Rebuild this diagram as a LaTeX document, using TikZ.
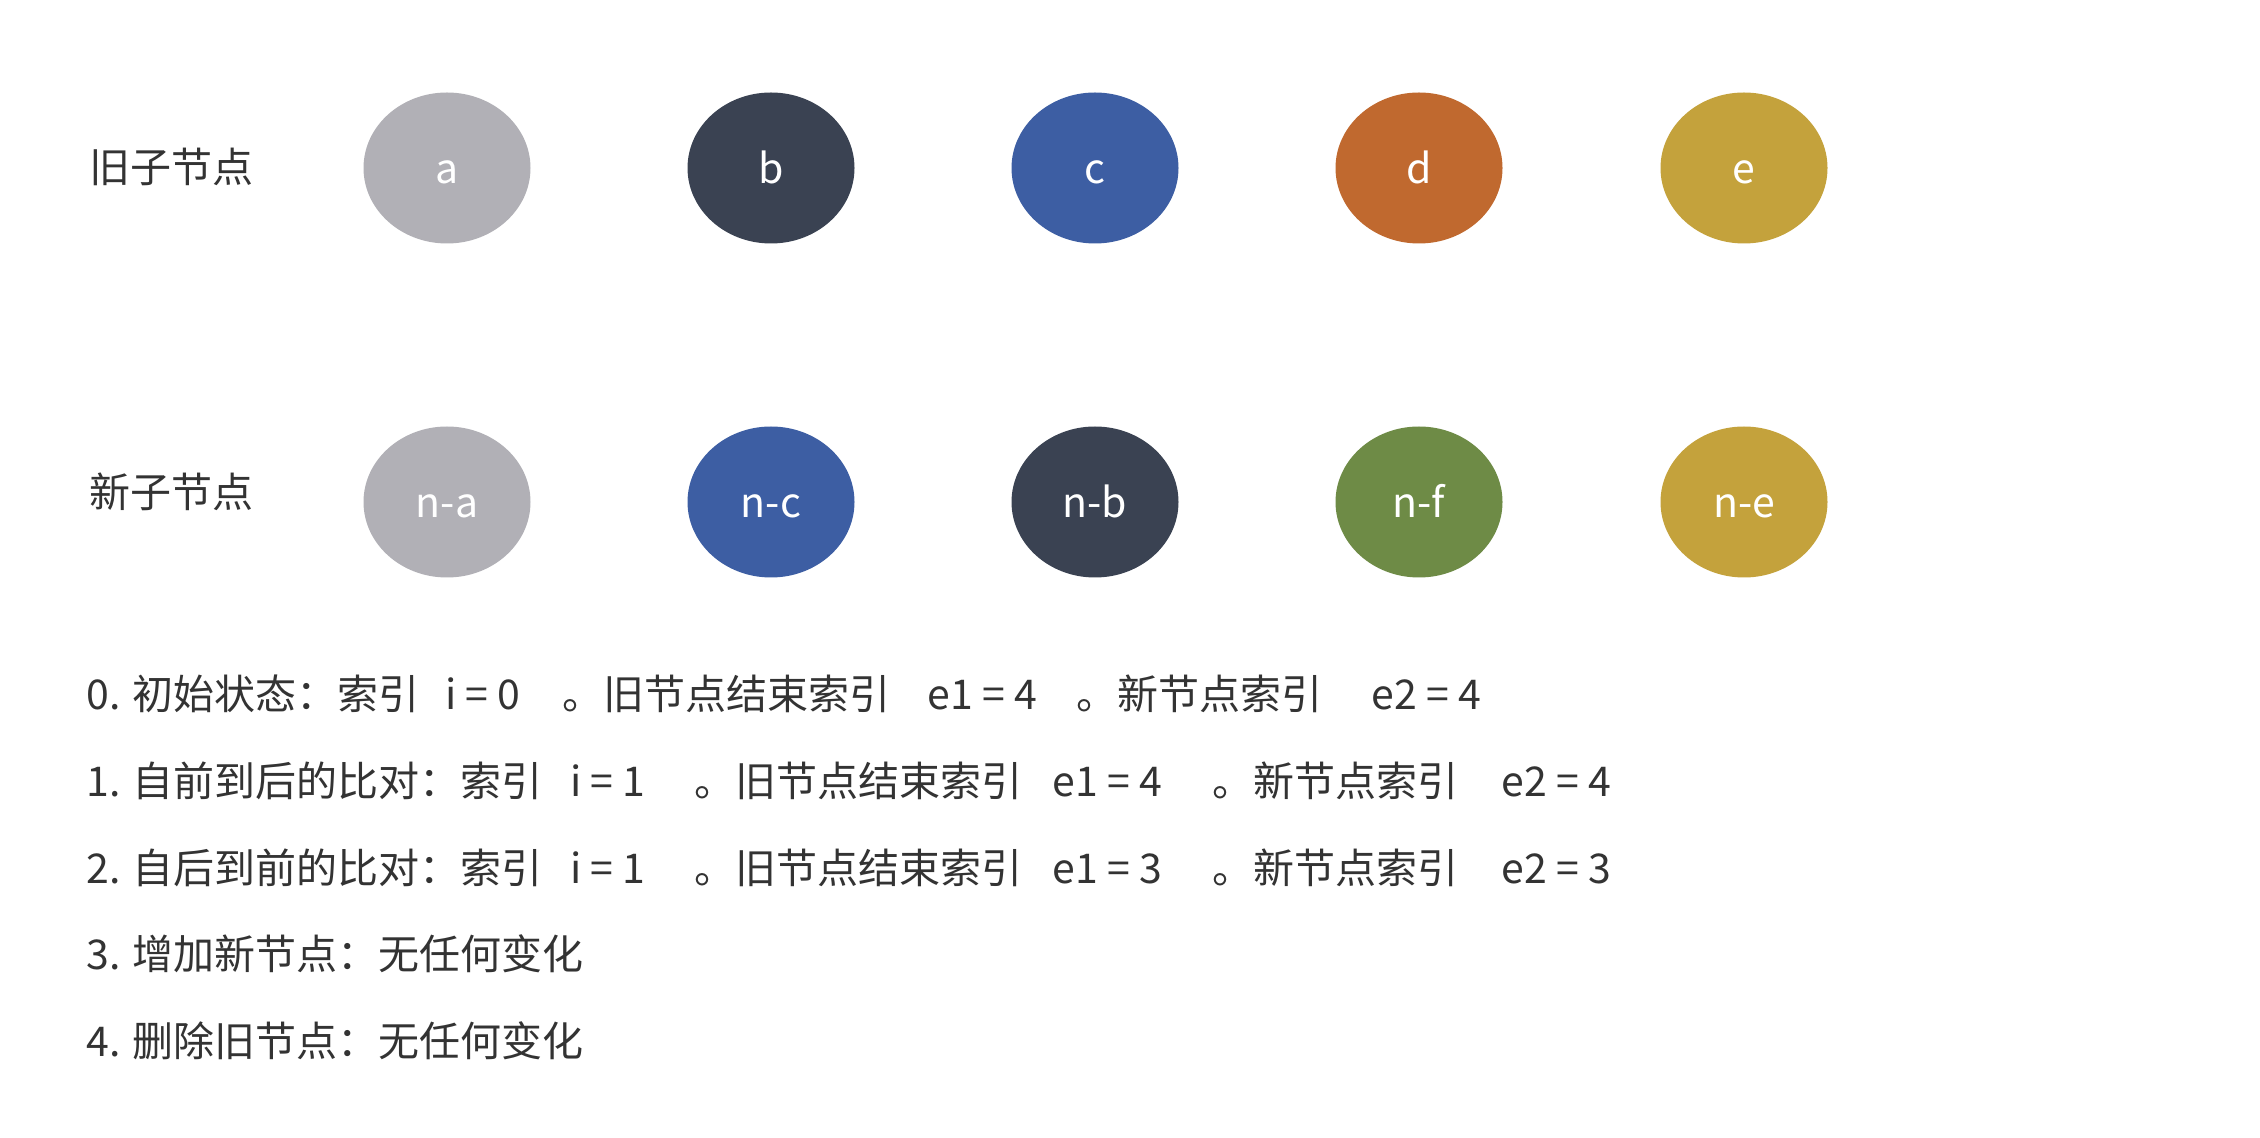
\documentclass[tikz,border=0pt]{standalone}
\usepackage{fontspec}
\setmainfont{Noto Sans CJK SC}
\usepackage{xcolor}
\usepackage{tikz}
\usetikzlibrary{shapes.geometric}
\definecolor{Ink}{HTML}{333333}
\definecolor{Ash}{HTML}{B1B0B6}
\definecolor{Slate}{HTML}{3A4252}
\definecolor{Cobalt}{HTML}{3D5EA3}
\definecolor{Rust}{HTML}{C0692F}
\definecolor{Ochre}{HTML}{C4A23C}
\definecolor{Moss}{HTML}{6E8B46}

\begin{document}
\begin{tikzpicture}[x=0.5pt,y=-0.5pt,font=\fontsize{20.5pt}{24pt}\selectfont,
  vnode/.style={ellipse,fill=#1,minimum width=83.5pt,minimum height=75.5pt,inner sep=0pt,
    text=white,text height=1em,text depth=0pt},
  txt/.style={anchor=base west,inner sep=0pt,text=Ink}]
\useasboundingbox[fill=white] (0,0) rectangle (2260,1138);
\node[txt] (oldlbl) at (89,183) {旧子节点};
\node[txt] (newlbl) at (89,508) {新子节点};
\foreach \i/\x/\c/\t in {1/447/Ash/a,2/771/Slate/b,3/1095/Cobalt/c,4/1419/Rust/d,5/1744/Ochre/e}
  \node[vnode=\c] (o\i) at (\x,168) {\raisebox{-3pt}{\t}};
\foreach \i/\x/\c/\t in {1/447/Ash/n-a,2/771/Cobalt/n-c,3/1095/Slate/n-b,4/1419/Moss/n-f,5/1744/Ochre/n-e}
  \node[vnode=\c] (n\i) at (\x,502) {\raisebox{-3pt}{\t}};
% steps
\node[txt] (s0a) at (86,710) {0. 初始状态：索引};
\node[txt] (s0b) at (445,710) {i = 0};
\node[txt] (s0c) at (562,710) {。旧节点结束索引};
\node[txt] (s0d) at (927,710) {e1 = 4};
\node[txt] (s0e) at (1076,710) {。新节点索引};
\node[txt] (s0f) at (1371,710) {e2 = 4};
\foreach \k/\y/\p/\v in {1/796/自前到后的比对/4,2/883/自后到前的比对/3}{
  \node[txt] (s\k a) at (86,\y) {\k. \p：索引};
  \node[txt] (s\k b) at (570,\y) {i = 1};
  \node[txt] (s\k c) at (694,\y) {。旧节点结束索引};
  \node[txt] (s\k d) at (1052,\y) {e1 = \v};
  \node[txt] (s\k e) at (1212,\y) {。新节点索引};
  \node[txt] (s\k f) at (1501,\y) {e2 = \v};
}
\node[txt] (s3) at (86,969) {3. 增加新节点：无任何变化};
\node[txt] (s4) at (86,1056) {4. 删除旧节点：无任何变化};
\end{tikzpicture}
\end{document}
